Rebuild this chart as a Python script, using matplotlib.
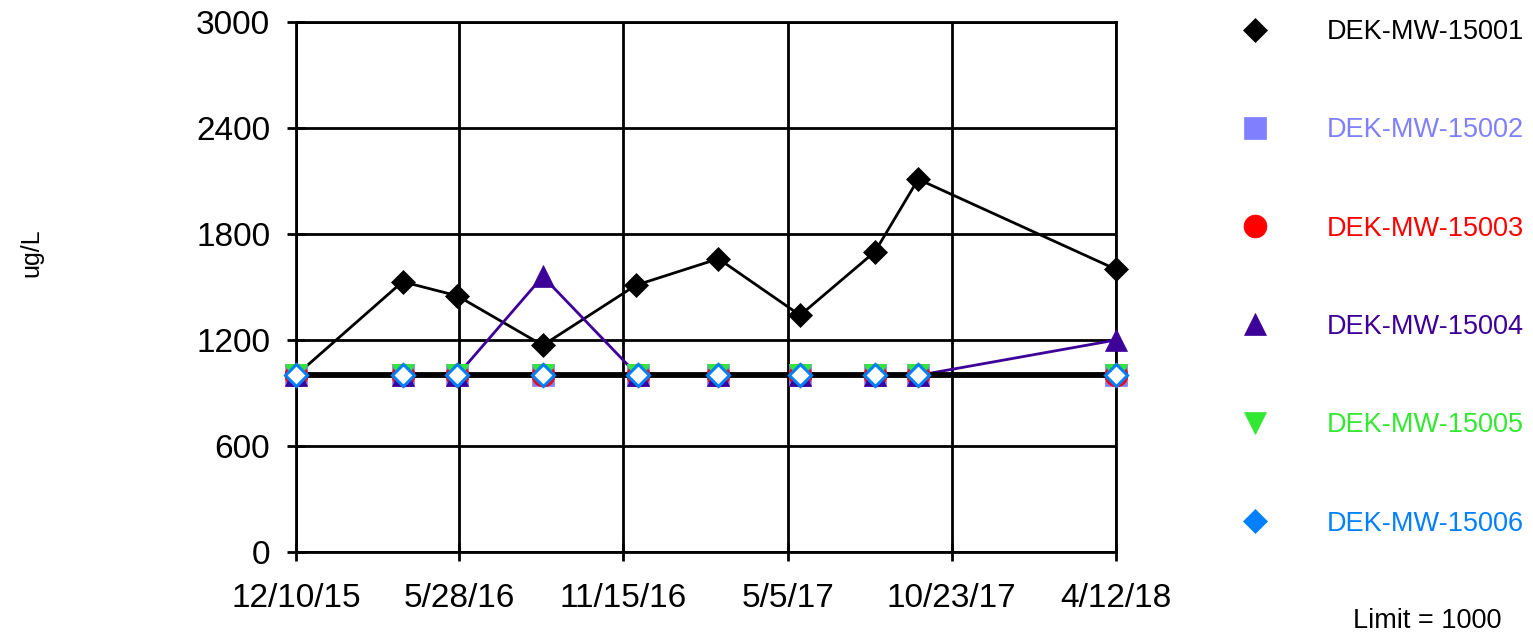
import matplotlib
matplotlib.use('Agg')
import matplotlib.pyplot as plt
import matplotlib.dates as mdates
from matplotlib.lines import Line2D
import pandas as pd

plt.rcParams['font.family'] = ['Liberation Sans', 'DejaVu Sans']

# ---------------- data ----------------
series_names = ['DEK-MW-15001', 'DEK-MW-15002', 'DEK-MW-15003',
                'DEK-MW-15004', 'DEK-MW-15005', 'DEK-MW-15006']
series_colors = ['#000000', '#8080FF', '#FF0000', '#3D0099', '#33E833', '#0080FF']
series_markers = ['D', 's', 'o', '^', 'v', 'D']

dates_15001 = ['2015-12-10', '2016-03-30', '2016-05-26', '2016-08-23', '2016-11-28',
               '2017-02-22', '2017-05-18', '2017-08-04', '2017-09-18', '2018-04-12']
dates_other = ['2015-12-10', '2016-03-30', '2016-05-26', '2016-08-23', '2016-11-30',
               '2017-02-22', '2017-05-18', '2017-08-04', '2017-09-18', '2018-04-12']

values_15001 = [1000, 1530, 1450, 1170, 1510, 1660, 1340, 1700, 2110, 1600]
values_15002 = [1000, 1000, 1000, 1000, 1000, 1000, 1000, 1000, 1000, 1000]
values_15003 = [1000, 1000, 1000, 1000, 1000, 1000, 1000, 1000, 1000, 1000]
values_15004 = [1000, 1000, 1000, 1560, 1000, 1000, 1000, 1000, 1000, 1200]
values_15005 = [1000, 1000, 1000, 1000, 1000, 1000, 1000, 1000, 1000, 1000]
values_15006 = [1000, 1000, 1000, 1000, 1000, 1000, 1000, 1000, 1000, 1000]

tick_dates = ['2015-12-10', '2016-05-28', '2016-11-15', '2017-05-05', '2017-10-23', '2018-04-12']
tick_labels = ['12/10/15', '5/28/16', '11/15/16', '5/5/17', '10/23/17', '4/12/18']
y_ticks = [0, 600, 1200, 1800, 2400, 3000]
limit_value = 1000
y_label = 'ug/L'
limit_text = 'Limit = 1000'

# ---------------- figure ----------------
W, H = 1533, 635
fig = plt.figure(figsize=(W / 100, H / 100), dpi=100)
ax = fig.add_axes([296 / W, 83 / H, 820 / W, 530 / H])

all_dates = [dates_15001] + [dates_other] * 5
all_values = [values_15001, values_15002, values_15003,
              values_15004, values_15005, values_15006]

MS_D = 12.6
MS_O = 16.5

for i, (name, d, v, c, m) in enumerate(zip(series_names, all_dates, all_values,
                                            series_colors, series_markers)):
    x = pd.to_datetime(d)
    ax.plot(x, v, color=c, lw=2.0, zorder=2, clip_on=False)
    if name == 'DEK-MW-15006':
        ax.plot(x, v, ls='none', marker=m, ms=MS_D - 1.0, mfc='white', mec=c,
                mew=2.2, zorder=10 + i, clip_on=False)
    else:
        ms = MS_D if m == 'D' else MS_O
        ax.plot(x, v, ls='none', marker=m, ms=ms, mfc=c, mec=c,
                mew=0.5, zorder=10 + i, clip_on=False)

# limit line
ax.axhline(limit_value, color='black', lw=4.2, zorder=3)

tick_x = pd.to_datetime(tick_dates)
ax.set_xlim(tick_x[0], tick_x[-1])
ax.set_ylim(0, 3000)
ax.set_xticks(tick_x)
ax.set_xticklabels(tick_labels)
ax.set_yticks(y_ticks)
ax.set_yticklabels([str(t) for t in y_ticks])

ax.grid(True, color='black', lw=2.0)
ax.set_axisbelow(True)
for s in ['left', 'bottom', 'top', 'right']:
    ax.spines[s].set_linewidth(2.0)
    ax.spines[s].set_color('black')
ax.tick_params(axis='both', direction='inout', length=13, width=2.0,
               labelsize=24, colors='black')
ax.tick_params(axis='x', pad=16)
ax.tick_params(axis='y', pad=12)

fig.text(31 / W, 1 - 253 / H, y_label, rotation=90, ha='center', va='center',
         fontsize=18)
fig.text(1427 / W, 1 - 621 / H, limit_text, ha='center', va='center',
         fontsize=19.5)

# legend
handles = []
for name, c, m in zip(series_names, series_colors, series_markers):
    ms = MS_D if m == 'D' else MS_O
    handles.append(Line2D([], [], ls='none', marker=m, ms=ms, mfc=c, mec=c, mew=0.5))
leg = fig.legend(handles, series_names, loc='upper left',
                 bbox_to_anchor=(1241 / W, 1 - 19 / H), frameon=False,
                 fontsize=19.5, handlelength=1.0, handletextpad=2.15,
                 labelspacing=2.67, borderpad=0, borderaxespad=0,
                 labelcolor=series_colors)

fig.savefig('out.png', dpi=100, facecolor='white')
